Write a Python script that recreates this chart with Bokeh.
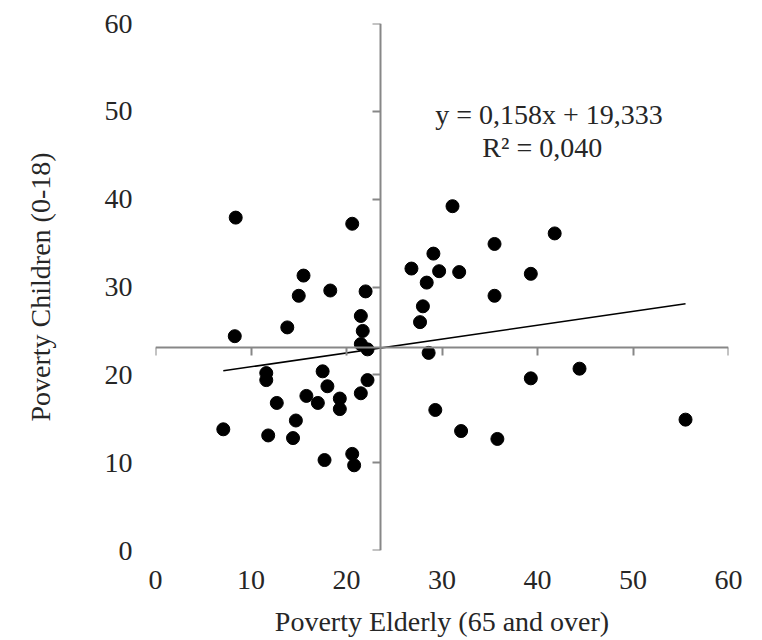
from bokeh.plotting import figure
from bokeh.models import Range1d, LinearAxis, FixedTicker, Label
from bokeh.embed import file_html
from bokeh.resources import INLINE

# Data
poverty_elderly = [8.4, 20.6, 15.5, 15.0, 18.3, 22.0, 13.8, 8.3, 21.5, 21.7, 21.5, 22.2,
                   11.6, 11.6, 17.5, 22.2, 18.0, 21.5, 15.8, 12.7, 17.0, 19.3, 19.3, 14.7,
                   7.1, 11.8, 14.4, 17.7, 20.6, 20.8,
                   31.1, 41.8, 35.5, 29.1, 26.8, 29.7, 31.8, 39.3, 28.4, 35.5, 28.0, 27.7, 28.6,
                   39.3, 44.4, 29.3, 32.0, 35.8, 55.5]
poverty_children = [37.9, 37.2, 31.3, 29.0, 29.6, 29.5, 25.4, 24.4, 26.7, 25.0, 23.5, 22.9,
                    20.2, 19.4, 20.4, 19.4, 18.7, 17.9, 17.6, 16.8, 16.8, 17.3, 16.1, 14.8,
                    13.8, 13.1, 12.8, 10.3, 11.0, 9.7,
                    39.2, 36.1, 34.9, 33.8, 32.1, 31.8, 31.7, 31.5, 30.5, 29.0, 27.8, 26.0, 22.5,
                    19.6, 20.7, 16.0, 13.6, 12.7, 14.9]

trend_slope = 0.158
trend_intercept = 19.333
equation_text = "y = 0,158x + 19,333"
r2_text = "R² = 0,040"

axis_ticks = [0, 10, 20, 30, 40, 50, 60]
x_cross = 23.6   # where the vertical axis crosses
y_cross = 23.15  # where the horizontal axis crosses

FONT = "Liberation Serif"
FS = "28px"
TXT = "#262626"
AX = "#878787"

p = figure(width=762, height=640, output_backend="svg", toolbar_location=None,
           x_range=Range1d(0, 60), y_range=Range1d(0, 60),
           x_axis_location=None, y_axis_location=None,
           min_border_left=155, min_border_right=34, min_border_top=23, min_border_bottom=90)
p.outline_line_color = None
p.grid.visible = False
p.background_fill_color = "white"
p.border_fill_color = "white"

# Label-only axes at the frame edges
xlab = LinearAxis(ticker=FixedTicker(ticks=axis_ticks), axis_label="Poverty Elderly (65 and over)")
ylab = LinearAxis(ticker=FixedTicker(ticks=axis_ticks), axis_label="Poverty Children (0-18)")
for ax in (xlab, ylab):
    ax.axis_line_color = None
    ax.major_tick_line_color = None
    ax.minor_tick_line_color = None
    ax.major_tick_out = 0
    ax.major_tick_in = 0
    ax.major_label_text_font = FONT
    ax.major_label_text_font_size = FS
    ax.major_label_text_color = TXT
    ax.axis_label_text_font = FONT
    ax.axis_label_text_font_size = FS
    ax.axis_label_text_font_style = "normal"
    ax.axis_label_text_color = TXT
xlab.major_label_standoff = 20
xlab.axis_label_standoff = 14
ylab.major_label_standoff = 23
ylab.axis_label_standoff = 46
p.add_layout(xlab, "below")
p.add_layout(ylab, "left")

# Crossing axes (line + ticks, no labels)
xcross = LinearAxis(ticker=FixedTicker(ticks=axis_ticks), fixed_location=y_cross)
ycross = LinearAxis(ticker=FixedTicker(ticks=axis_ticks), fixed_location=x_cross)
for ax in (xcross, ycross):
    ax.axis_line_color = AX
    ax.axis_line_width = 2
    ax.major_tick_line_color = AX
    ax.major_tick_line_width = 2
    ax.major_tick_out = 8
    ax.major_tick_in = 0
    ax.minor_tick_line_color = None
    ax.major_label_text_font_size = "0px"
    ax.major_label_text_alpha = 0
    ax.major_label_standoff = 0
p.add_layout(xcross, "below")
p.add_layout(ycross, "left")

# Trend line across the data's x extent
x0, x1 = min(poverty_elderly), max(poverty_elderly)
p.line([x0, x1], [trend_slope * x0 + trend_intercept, trend_slope * x1 + trend_intercept],
       line_color="black", line_width=1.5)

p.scatter(poverty_elderly, poverty_children, size=13, fill_color="black", line_color="black")

p.add_layout(Label(x=41.2, y=49.6, text=equation_text, text_align="center", text_baseline="middle",
                   text_font=FONT, text_font_size=FS, text_color=TXT))
p.add_layout(Label(x=40.5, y=45.9, text=r2_text, text_align="center", text_baseline="middle",
                   text_font=FONT, text_font_size=FS, text_color=TXT))

open("out.html", "w").write(file_html(p, INLINE))
